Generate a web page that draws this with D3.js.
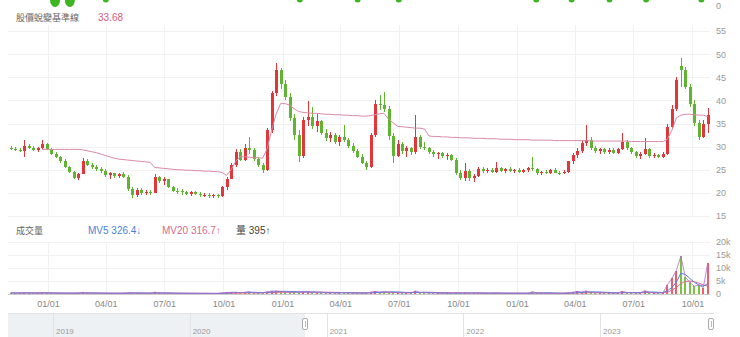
<!DOCTYPE html>
<html>
<head>
<meta charset="utf-8">
<script src="https://cdn.jsdelivr.net/npm/d3@7"></script>
<style>
  body { margin: 0; background: #fff; }
</style>
</head>
<body>
<div id="chart"></div>
<script>
// weekly candles from 2020-11-04, [open, high, low, close]
const candles = [
  [29.8,30.2,29.2,29.5],[29.5,30.0,29.0,29.3],[29.3,29.8,28.8,29.0],[29.0,31.4,27.8,30.2],[30.2,30.5,29.4,29.8],
  [29.8,30.2,29.0,29.3],[29.3,30.0,28.9,29.6],[29.6,31.4,29.4,30.6],[30.6,30.8,29.2,29.4],[29.4,29.6,28.2,28.5],
  [28.5,28.8,27.5,27.8],[27.8,28.0,26.5,26.8],[26.8,27.4,25.4,25.6],[25.6,25.9,24.2,24.5],[24.5,24.7,23.0,23.3],
  [23.3,24.4,22.8,24.1],[24.1,27.6,24.0,27.0],[27.0,27.3,25.8,26.0],[26.0,26.4,25.2,25.5],[25.5,26.0,24.8,25.2],
  [25.2,25.6,24.4,24.7],[24.7,25.2,23.4,23.8],[23.8,24.6,23.0,24.2],[24.2,24.4,23.3,23.6],[23.6,24.3,23.2,24.0],
  [24.0,24.5,23.2,23.5],[23.5,23.8,20.4,20.8],[20.8,21.2,19.0,19.5],[19.5,21.0,19.2,20.6],[20.6,21.0,19.6,19.9],
  [19.9,20.6,19.5,20.2],[20.2,20.7,19.6,20.0],[20.0,24.0,19.9,23.4],[23.4,23.6,22.2,22.5],[22.5,23.4,21.8,22.9],
  [22.9,23.1,21.0,21.3],[21.3,21.5,20.2,20.5],[20.5,21.0,19.8,20.3],[20.3,20.8,19.6,20.1],[20.1,20.5,19.5,19.8],
  [19.8,20.4,19.4,20.1],[20.1,20.4,19.5,19.7],[19.7,20.1,19.2,19.5],[19.5,19.9,19.1,19.6],[19.6,19.9,19.0,19.3],
  [19.3,19.8,19.0,19.5],[19.5,19.8,19.0,19.3],[19.3,21.5,19.2,21.2],[21.2,23.5,20.6,23.0],[23.0,26.5,22.9,26.0],
  [26.0,29.5,25.5,28.8],[28.8,29.5,26.8,27.2],[27.2,30.5,26.8,29.8],[29.8,32.0,28.5,29.2],[29.2,29.6,26.8,27.3],
  [27.3,27.8,25.5,26.0],[26.0,26.5,24.3,25.0],[25.0,34.0,24.8,33.5],[33.5,42.0,33.0,41.5],[41.5,48.1,41.0,46.5],
  [46.5,47.0,42.5,43.5],[43.5,44.4,40.0,40.8],[40.8,41.5,35.5,36.2],[36.2,37.0,31.5,32.5],[32.5,33.5,26.7,28.0],
  [28.0,36.5,27.5,35.8],[35.8,39.8,34.5,36.5],[36.5,38.6,33.8,34.5],[34.5,37.0,33.2,35.5],[35.5,35.8,32.5,33.0],
  [33.0,33.8,31.2,31.8],[31.8,33.2,31.0,32.6],[32.6,33.0,30.5,31.0],[31.0,32.5,30.2,32.0],[32.0,34.7,31.0,31.5],
  [31.5,31.8,29.8,30.2],[30.2,30.8,28.6,29.0],[29.0,29.5,27.5,27.8],[27.8,28.3,26.2,26.5],[26.5,27.0,25.0,25.5],
  [25.5,33.0,25.3,32.5],[32.5,40.0,32.0,39.2],[39.2,41.2,38.0,39.0],[39.0,41.8,37.5,38.2],[38.2,38.8,31.5,32.2],
  [32.2,33.0,26.5,28.0],[28.0,31.4,27.8,30.5],[30.5,31.0,28.5,29.0],[29.0,30.2,27.8,29.6],[29.6,30.0,28.2,28.8],
  [28.8,36.8,28.5,32.0],[32.0,32.5,29.5,30.0],[30.0,31.0,29.2,29.6],[29.6,29.9,28.4,28.8],[28.8,29.2,27.8,28.3],
  [28.3,28.9,27.4,28.6],[28.6,28.9,27.6,28.0],[28.0,28.6,27.2,28.2],[28.2,28.5,26.8,27.2],[27.2,27.5,23.8,24.3],
  [24.3,25.0,22.8,23.3],[23.3,26.5,22.5,24.8],[24.8,25.2,22.6,23.2],[23.2,24.0,22.4,23.6],[23.6,25.6,23.4,25.2],
  [25.2,25.6,24.3,24.8],[24.8,25.4,24.2,25.0],[25.0,25.4,24.3,24.6],[24.6,26.7,24.4,25.4],[25.4,25.7,24.5,24.8],
  [24.8,25.3,24.3,25.1],[25.1,25.5,24.5,24.7],[24.7,25.2,24.2,24.9],[24.9,25.3,24.3,24.6],[24.6,25.2,24.3,25.0],
  [25.0,25.6,24.6,25.3],[25.3,27.8,24.8,25.2],[25.2,25.4,23.9,24.2],[24.2,24.8,23.8,24.5],[24.5,25.0,24.0,24.3],
  [24.3,25.2,24.0,24.9],[24.9,25.3,24.2,24.4],[24.4,24.8,23.9,24.2],[24.2,24.9,24.0,24.6],[24.6,27.0,24.4,26.8],
  [26.8,28.6,26.2,28.2],[28.2,29.8,27.6,29.0],[29.0,31.4,28.6,30.8],[30.8,34.7,30.2,31.5],[31.5,32.0,29.3,29.8],
  [29.8,30.2,28.6,29.0],[29.0,29.7,28.4,29.5],[29.5,29.8,28.4,28.8],[28.8,29.7,28.3,29.3],[29.3,29.6,28.3,28.6],
  [28.6,29.7,28.4,29.4],[29.4,33.0,29.2,31.0],[31.0,31.5,29.2,29.6],[29.6,30.0,28.4,28.8],[28.8,29.0,27.5,27.9],
  [27.9,28.8,27.4,28.5],[28.5,31.9,28.2,29.5],[29.5,29.8,27.6,28.0],[28.0,28.6,27.5,28.2],[28.2,28.5,27.5,27.8],
  [27.8,28.8,27.6,28.4],[28.4,35.0,28.2,34.3],[34.3,39.0,33.8,38.2],[38.2,45.0,37.8,44.5],[47.5,49.2,43.0,46.5],
  [46.5,47.2,42.5,43.0],[43.0,43.6,38.5,39.2],[39.2,40.0,34.5,35.2],[35.2,35.8,31.4,32.0],[32.0,35.8,31.8,35.0],
  [35.0,38.4,33.0,36.8]
];

// 股價蛻變基準線
const baseline = [
  null, null, null, null, null, null, null, 29.4, 29.4, 29.4,
  29.4, 29.4, 29.4, 29.4, 29.4, 29.4, 29.3, 29.1, 28.9, 28.7,
  28.4, 28.1, 27.8, 27.5, 27.3, 27.2, 27.1, 27.0, 26.9, 26.8,
  26.7, 26.6, 25.5, 25.4, 25.3, 25.2, 25.1, 25.0, 25.0, 24.9,
  24.9, 24.8, 24.8, 24.7, 24.7, 24.6, 24.6, 24.4, 23.8, 25.0,
  26.8, 27.8, 27.8, 27.7, 27.6, 27.6, 27.5, 29.5, 33.5, 37.0,
  39.3, 39.3, 39.0, 38.2, 37.6, 37.4, 37.3, 37.2, 37.2, 37.1,
  37.0, 37.0, 36.9, 36.9, 36.8, 36.8, 36.7, 36.7, 36.6, 36.6,
  36.7, 36.9, 37.1, 37.2, 36.0, 35.2, 34.4, 34.3, 34.2, 34.1,
  34.0, 34.0, 33.8, 32.3, 32.2, 32.2, 32.1, 32.1, 32.0, 32.0,
  31.9, 31.9, 31.9, 31.8, 31.8, 31.8, 31.7, 31.7, 31.7, 31.6,
  31.6, 31.6, 31.5, 31.5, 31.5, 31.5, 31.4, 31.4, 31.4, 31.4,
  31.4, 31.3, 31.3, 31.3, 31.3, 31.3, 31.3, 31.3, 31.3, 31.2,
  31.2, 31.2, 31.2, 31.2, 31.2, 31.2, 31.2, 31.2, 31.1, 31.1,
  31.1, 31.1, 31.1, 31.1, 31.1, 31.1, 31.6, 33.5, 36.2, 36.8,
  37.0, 37.0, 36.9, 36.8, 36.8, 36.5
];

// 成交量 (張)
const volumes = [
  420, 380, 350, 510, 400, 330, 300, 560, 420, 360, 340, 300, 280, 310, 290, 350, 620, 380, 300, 280,
  260, 300, 280, 250, 270, 300, 480, 520, 350, 280, 260, 250, 700, 420, 330, 300, 280, 260, 250, 240,
  230, 240, 220, 230, 220, 210, 220, 450, 600, 650, 700, 520, 600, 900, 500, 420, 380, 900, 1100, 1200,
  1000, 800, 700, 650, 700, 800, 900, 650, 550, 480, 430, 400, 420, 400, 600, 400, 380, 350, 330, 340,
  700, 1000, 800, 900, 750, 650, 500, 420, 400, 380, 1200, 600, 450, 380, 350, 330, 320, 300, 310, 500,
  450, 500, 380, 340, 380, 320, 300, 290, 420, 300, 280, 270, 260, 280, 270, 290, 900, 450, 300, 280,
  270, 260, 250, 260, 500, 700, 1000, 800, 1200, 700, 500, 420, 380, 360, 340, 350, 1000, 600, 420, 380,
  400, 1300, 600, 420, 360, 400, 3500, 6000, 9000, 14500, 6500, 4500, 3000, 3500, 2500, 12000
];

const mv5 = [
  400, 410, 390, 430, 420, 400, 380, 420, 420, 400, 360, 330, 310, 300, 300, 320, 420, 420, 410, 380,
  330, 300, 280, 270, 270, 280, 330, 380, 400, 400, 370, 320, 420, 420, 400, 400, 330, 300, 280, 260,
  250, 240, 230, 230, 230, 220, 220, 280, 350, 430, 530, 580, 610, 650, 650, 600, 560, 640, 760, 900,
  1000, 1050, 980, 900, 820, 780, 800, 780, 720, 660, 600, 530, 480, 460, 460, 460, 440, 420, 400, 380,
  440, 560, 640, 700, 780, 820, 800, 680, 580, 520, 600, 620, 640, 620, 600, 420, 370, 340, 320, 330,
  350, 380, 390, 400, 400, 380, 350, 330, 350, 320, 310, 300, 290, 290, 280, 280, 400, 430, 440, 440,
  450, 340, 290, 270, 310, 390, 500, 600, 760, 840, 820, 780, 680, 560, 460, 380, 490, 530, 560, 570,
  560, 760, 780, 750, 640, 560, 1200, 2500, 4500, 8000, 7500, 6000, 4500, 3500, 3000, 4000
];

const mv20 = [
  380, 385, 390, 395, 400, 400, 400, 400, 395, 390, 385, 380, 370, 360, 350, 350, 355, 360, 360, 355,
  350, 345, 335, 325, 315, 310, 315, 325, 335, 340, 340, 335, 340, 345, 350, 350, 345, 335, 325, 310,
  300, 290, 280, 270, 260, 250, 245, 250, 265, 285, 310, 340, 370, 400, 430, 450, 470, 500, 540, 600,
  650, 690, 720, 750, 770, 780, 780, 770, 750, 720, 690, 660, 630, 600, 570, 540, 510, 480, 460, 440,
  450, 480, 510, 540, 570, 590, 610, 620, 620, 610, 620, 630, 640, 630, 610, 580, 550, 510, 470, 440,
  410, 390, 380, 370, 365, 360, 355, 350, 345, 340, 335, 330, 325, 320, 315, 310, 320, 330, 340, 345,
  350, 350, 345, 340, 345, 360, 380, 410, 450, 490, 520, 540, 550, 550, 540, 520, 520, 525, 530, 530,
  530, 560, 580, 590, 585, 580, 640, 1500, 2500, 4000, 4800, 5000, 4700, 4200, 3500, 3000
];

const priceTicks = [15, 20, 25, 30, 35, 40, 45, 50, 55];
const volumeTicks = [0, 5000, 10000, 15000, 20000];
const yearTicks = ["2019", "2020", "2021", "2022", "2023"];
const bigMarkers = ["2021-01-12", "2021-02-04"];
const smallMarkers = ["2021-04-01", "2022-01-28", "2022-04-28", "2022-07-01", "2023-01-31", "2023-03-27", "2023-05-25", "2023-07-21", "2023-10-15"];

const width = 740, height = 337;
const red = "#e2363b", green = "#5fb531";
const pink = "#d98aa6";

const svg = d3.select("#chart").append("svg")
  .attr("width", width)
  .attr("height", height)
  .style("font-family", "Arial, 'Liberation Sans', 'Noto Sans CJK TC', sans-serif");

const parse = d3.timeParse("%Y-%m-%d");
const firstWeek = new Date(2020, 10, 4);
const dates = candles.map((d, i) => d3.timeDay.offset(firstWeek, i * 7));

const x = d3.scaleTime().domain([new Date(2021, 0, 1), new Date(2023, 0, 1)]).range([48, 517]);
const y = d3.scaleLinear().domain([15, 55]).range([216, 31]);
const yVol = d3.scaleLinear().domain([0, 20000]).range([294, 242]);
const xNav = d3.scaleTime().domain([new Date(2019, 0, 1), new Date(2023, 0, 1)]).range([53, 600]);

const left = 8, right = 710;
const tickDates = d3.timeMonth.range(new Date(2021, 0, 1), new Date(2023, 10, 1), 3);

// 上方被截掉的綠色標記
svg.append("g").selectAll("ellipse")
  .data(bigMarkers)
  .join("ellipse")
  .attr("cx", d => x(parse(d)))
  .attr("cy", 0)
  .attr("rx", 5)
  .attr("ry", 7)
  .attr("fill", "#3cb521");
svg.append("g").selectAll("circle")
  .data(smallMarkers)
  .join("circle")
  .attr("cx", d => x(parse(d)))
  .attr("cy", -0.5)
  .attr("r", 3)
  .attr("fill", "#3cb521");

svg.append("text")
  .attr("x", 716).attr("y", 9)
  .style("font-size", "9px").style("fill", "#999")
  .text("0");

// 標題
svg.append("text").attr("x", 16).attr("y", 21)
  .style("font-size", "9px").style("fill", "#666")
  .text("股價蛻變基準線");
svg.append("text").attr("x", 98).attr("y", 21)
  .style("font-size", "10px").style("fill", "#d25b82")
  .text("33.68");

// 格線
const grid = svg.append("g").attr("stroke", "#f1f1f1").attr("shape-rendering", "crispEdges");
grid.selectAll(".hp").data(priceTicks).join("line")
  .attr("x1", left).attr("x2", right)
  .attr("y1", d => Math.round(y(d)) + 0.5).attr("y2", d => Math.round(y(d)) + 0.5);
grid.selectAll(".vp").data(tickDates).join("line")
  .attr("x1", d => Math.round(x(d)) + 0.5).attr("x2", d => Math.round(x(d)) + 0.5)
  .attr("y1", 25).attr("y2", 216);
grid.selectAll(".hv").data(volumeTicks.slice(1)).join("line")
  .attr("x1", left).attr("x2", right)
  .attr("y1", d => Math.round(yVol(d)) + 0.5).attr("y2", d => Math.round(yVol(d)) + 0.5);
grid.selectAll(".vv").data(tickDates).join("line")
  .attr("x1", d => Math.round(x(d)) + 0.5).attr("x2", d => Math.round(x(d)) + 0.5)
  .attr("y1", 242).attr("y2", 294);

// 價格座標
svg.append("g")
  .attr("transform", "translate(713,0)")
  .call(d3.axisRight(y).tickValues(priceTicks).tickSize(0).tickPadding(3))
  .call(g => g.select(".domain").remove())
  .call(g => g.selectAll("text").attr("fill", "#999").attr("font-size", 9).attr("font-family", null));

// K線
const bodyW = 3;
const kline = svg.append("g").attr("shape-rendering", "crispEdges");
kline.selectAll("line")
  .data(candles)
  .join("line")
  .attr("x1", (d, i) => Math.round(x(dates[i])) + 0.5)
  .attr("x2", (d, i) => Math.round(x(dates[i])) + 0.5)
  .attr("y1", d => y(d[1]))
  .attr("y2", d => y(d[2]))
  .attr("stroke", d => d[3] >= d[0] ? red : green);
kline.selectAll("rect")
  .data(candles)
  .join("rect")
  .attr("x", (d, i) => Math.round(x(dates[i])) - 1)
  .attr("width", bodyW)
  .attr("y", d => y(Math.max(d[0], d[3])))
  .attr("height", d => Math.max(1, Math.abs(y(d[0]) - y(d[3]))))
  .attr("fill", d => d[3] >= d[0] ? red : green);

// 基準線
const baseLine = d3.line()
  .defined(d => d != null)
  .x((d, i) => x(dates[i]))
  .y(d => y(d));
svg.append("path")
  .attr("d", baseLine(baseline))
  .attr("fill", "none")
  .attr("stroke", pink)
  .attr("stroke-width", 1);

// 成交量標題
const volTitle = svg.append("g").style("font-size", "10px");
volTitle.append("text").attr("x", 16).attr("y", 234).style("fill", "#666").style("font-size", "9px").text("成交量");
volTitle.append("text").attr("x", 88).attr("y", 234).style("fill", "#4c7fd6").text("MV5 326.4↓");
volTitle.append("text").attr("x", 162).attr("y", 234).style("fill", "#d66a8c").text("MV20 316.7↑");
volTitle.append("text").attr("x", 236).attr("y", 234).style("fill", "#444").text("量 395↑");

svg.append("g")
  .attr("transform", "translate(713,0)")
  .call(d3.axisRight(yVol).tickValues(volumeTicks).tickSize(0).tickPadding(3)
    .tickFormat(d => d === 0 ? "0" : d / 1000 + "k"))
  .call(g => g.select(".domain").remove())
  .call(g => g.selectAll("text").attr("fill", "#999").attr("font-size", 9).attr("font-family", null));

// 成交量柱
svg.append("g").attr("shape-rendering", "crispEdges")
  .selectAll("rect")
  .data(volumes)
  .join("rect")
  .attr("x", (d, i) => Math.round(x(dates[i])) - 1)
  .attr("width", 2)
  .attr("y", d => yVol(d))
  .attr("height", d => yVol(0) - yVol(d))
  .attr("fill", (d, i) => candles[i][3] >= candles[i][0] ? "#ef5c6c" : "#7cc242");

const volLine = d3.line()
  .x((d, i) => x(dates[i]))
  .y(d => yVol(d));
svg.append("path").attr("d", volLine(mv20))
  .attr("fill", "none").attr("stroke", "#e06b8e").attr("stroke-width", 1);
svg.append("path").attr("d", volLine(mv5))
  .attr("fill", "none").attr("stroke", "#4f86d9").attr("stroke-width", 1);
svg.append("path").attr("d", volLine(volumes))
  .attr("fill", "none").attr("stroke", "#b06ad0").attr("stroke-width", 1).attr("opacity", 0.8);

svg.append("line")
  .attr("x1", left).attr("x2", right)
  .attr("y1", 294.5).attr("y2", 294.5)
  .attr("stroke", "#ccc");

// 日期
svg.append("g")
  .attr("transform", "translate(0,298)")
  .call(d3.axisBottom(x).tickValues(tickDates).tickSize(0).tickPadding(3).tickFormat(d3.timeFormat("%m/%d")))
  .call(g => g.select(".domain").remove())
  .call(g => g.selectAll("text").attr("fill", "#888").attr("font-size", 9).attr("font-family", null));

// 導覽列
const nav = svg.append("g");
const selStart = xNav(dates[0]);
const selEnd = xNav(dates[dates.length - 1]);
nav.append("rect")
  .attr("x", left).attr("y", 313)
  .attr("width", selStart - left).attr("height", 24)
  .attr("fill", "#eef1f4");
nav.append("line")
  .attr("x1", left).attr("x2", right + 4)
  .attr("y1", 313.5).attr("y2", 313.5)
  .attr("stroke", "#e3e3e3");
nav.selectAll(".year").data(yearTicks).join("line")
  .attr("x1", d => Math.round(xNav(new Date(+d, 0, 1))) + 0.5)
  .attr("x2", d => Math.round(xNav(new Date(+d, 0, 1))) + 0.5)
  .attr("y1", 313).attr("y2", 337)
  .attr("stroke", "#e3e3e3");
nav.selectAll("text").data(yearTicks).join("text")
  .attr("x", d => xNav(new Date(+d, 0, 1)) + 3)
  .attr("y", 334)
  .style("font-size", "8px")
  .style("fill", "#999")
  .text(d => d);
nav.selectAll(".handle").data([selStart, selEnd]).join("rect")
  .attr("x", d => Math.round(d) - 2.5)
  .attr("y", 318.5)
  .attr("width", 5).attr("height", 11)
  .attr("rx", 1.5)
  .attr("fill", "#fff")
  .attr("stroke", "#aaa");
nav.selectAll(".grip").data([selStart, selEnd]).join("line")
  .attr("x1", d => Math.round(d) + 0.5).attr("x2", d => Math.round(d) + 0.5)
  .attr("y1", 321).attr("y2", 327)
  .attr("stroke", "#bbb");
</script>
</body>
</html>
